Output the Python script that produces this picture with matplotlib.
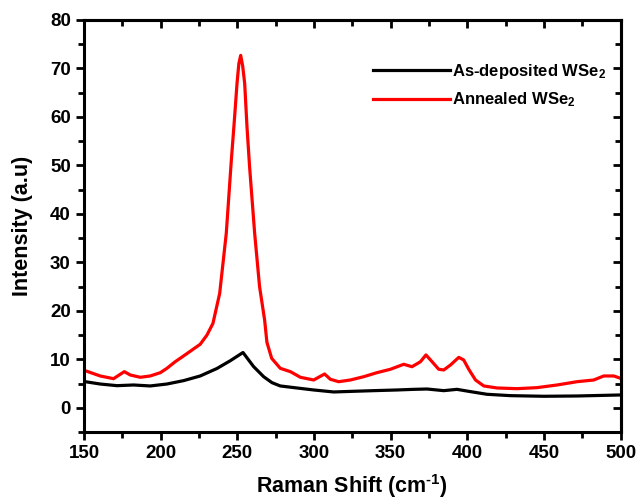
import matplotlib
matplotlib.use("Agg")
import matplotlib.pyplot as plt
from matplotlib.ticker import MultipleLocator

plt.rcParams['font.family'] = ['Liberation Sans', 'DejaVu Sans']
plt.rcParams['font.weight'] = 'bold'
plt.rcParams['mathtext.fontset'] = 'custom'
plt.rcParams['mathtext.rm'] = 'Liberation Sans:bold'
plt.rcParams['mathtext.bf'] = 'Liberation Sans:bold'
plt.rcParams['mathtext.default'] = 'bf'

# Raman spectra
x_asdep = [150.8, 160.6, 171.5, 182.4, 193.2, 204.1, 215.0, 225.8, 236.7, 245.4,
           253.7, 260.6, 267.2, 272.6, 278.0, 288.9, 299.8, 312.8, 325.9, 338.9,
           354.1, 365.0, 373.7, 384.6, 393.2, 402.0, 412.8, 428.1, 449.8, 471.5,
           499.8]
y_asdep = [5.38, 4.9, 4.56, 4.7, 4.5, 4.9, 5.6, 6.56, 8.1, 9.7,
           11.4, 8.5, 6.4, 5.18, 4.5, 4.08, 3.67, 3.26, 3.4, 3.53,
           3.67, 3.8, 3.87, 3.53, 3.8, 3.33, 2.78, 2.5, 2.37, 2.43,
           2.64]

x_anneal = [150.8, 160.6, 169.3, 176.3, 180.2, 186.7, 193.2, 199.8, 204.1, 209.5,
            215.0, 220.4, 225.8, 230.2, 234.1, 238.5, 242.8, 246.1, 248.0, 249.8,
            251.0, 252.2, 253.5, 254.8, 256.3, 258.0, 261.3, 264.5, 267.8, 269.3,
            272.4, 278.0, 284.6, 291.1, 299.8, 306.9, 310.7, 316.1, 323.7, 332.4,
            341.0, 349.8, 358.5, 363.9, 369.4, 373.0, 377.0, 381.3, 384.6, 388.9,
            394.4, 397.6, 400.9, 405.3, 410.7, 419.4, 432.4, 445.4, 458.5, 471.5,
            482.4, 488.9, 495.5, 499.8]
y_anneal = [7.65, 6.56, 6.0, 7.45, 6.76, 6.29, 6.56, 7.24, 8.14, 9.5,
            10.7, 11.9, 13.1, 15.0, 17.4, 23.6, 36.0, 51.1, 59.0, 66.9,
            71.0, 72.7, 70.5, 66.9, 58.0, 49.7, 36.0, 25.0, 18.1, 13.5,
            10.2, 8.14, 7.45, 6.29, 5.73, 6.97, 5.87, 5.38, 5.73, 6.41,
            7.24, 7.94, 8.97, 8.47, 9.5, 10.9, 9.5, 7.94, 7.8, 8.8,
            10.4, 9.86, 7.94, 5.73, 4.5, 4.08, 3.94, 4.15, 4.7, 5.38,
            5.73, 6.56, 6.56, 6.08]

fig = plt.figure(figsize=(6.36, 5.0), dpi=100)
ax = fig.add_axes([0.132, 0.136, 0.844, 0.824])

ax.plot(x_asdep, y_asdep, color='black', lw=2.3, label='As-deposited WSe$_2$')
ax.plot(x_anneal, y_anneal, color='red', lw=2.3, label='Annealed WSe$_2$')

ax.set_xlim(150, 500)
ax.set_ylim(-5, 80)
ax.xaxis.set_major_locator(MultipleLocator(50))
ax.xaxis.set_minor_locator(MultipleLocator(25))
ax.yaxis.set_major_locator(MultipleLocator(10))
ax.yaxis.set_minor_locator(MultipleLocator(5))

for side in ax.spines.values():
    side.set_linewidth(2.2)

ax.tick_params(which='both', direction='out', width=2.0, labelsize=13.5,
               top=False, right=False)
ax.tick_params(which='major', length=6)
ax.tick_params(which='minor', length=4)
for lab in ax.get_xticklabels() + ax.get_yticklabels():
    lab.set_fontweight('bold')

# mirrored ticks pointing inwards on top and right
axt = ax.secondary_xaxis('top')
axt.xaxis.set_major_locator(MultipleLocator(50))
axt.xaxis.set_minor_locator(MultipleLocator(25))
axt.tick_params(which='both', direction='in', width=2.0, labeltop=False)
axt.tick_params(which='major', length=6)
axt.tick_params(which='minor', length=4)
axt.spines['top'].set_linewidth(2.2)
axr = ax.secondary_yaxis('right')
axr.yaxis.set_major_locator(MultipleLocator(10))
axr.yaxis.set_minor_locator(MultipleLocator(5))
axr.tick_params(which='both', direction='in', width=2.0, labelright=False)
axr.tick_params(which='major', length=6)
axr.tick_params(which='minor', length=4)
axr.spines['right'].set_linewidth(2.2)

ax.set_xlabel(r'Raman Shift (cm$^{\text{-}1}$)', fontsize=15.5, fontweight='bold', labelpad=7)
ax.set_ylabel('Intensity (a.u)', fontsize=15.5, fontweight='bold', labelpad=12)

ax.legend(loc='upper right', frameon=False, fontsize=12, handlelength=4.6,
          handletextpad=0.1, labelspacing=0.6, bbox_to_anchor=(1.0, 0.935))

fig.savefig('out.png', dpi=100)
